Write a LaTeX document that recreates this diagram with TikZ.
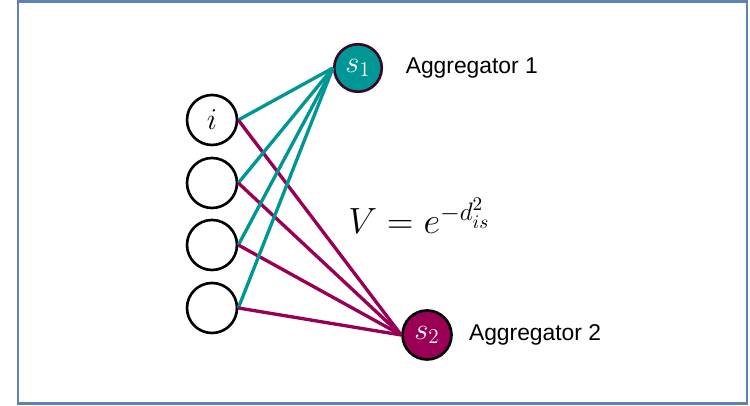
\documentclass[tikz,border=0pt]{standalone}
\usepackage{amsmath, amssymb}
\usepackage{fontspec}
\setmainfont{Liberation Sans}
\usepackage{tikz}
\usetikzlibrary{positioning}

\definecolor{marc}{RGB}{95,130,180}
\definecolor{verd}{RGB}{0,150,150}
\definecolor{grana}{RGB}{153,0,85}
\definecolor{fosc}{RGB}{55,10,35}

\tikzset{
    entrada/.style={circle, draw=black, line width=1.5pt, fill=white, minimum size=1cm, inner sep=0pt},
    agregador/.style={circle, line width=1.5pt, minimum size=0.95cm, inner sep=0pt, text=white, font=\fontsize{18}{22}\selectfont},
    etiqueta/.style={anchor=west, font=\fontsize{13}{15}\selectfont},
    via/.style={line width=1.9pt}
}

\begin{document}
\begin{tikzpicture}
    \useasboundingbox (0,0) rectangle (15,8.12);

    % Marc
    \draw[marc, line width=1.7pt] (0.36,0.04) rectangle (14.94,8.08);

    % Entrades
    \node[entrada] (in1) at (4.24,5.72) {\fontsize{17}{20}\selectfont $i$};
    \node[entrada] (in2) at (4.24,4.46) {};
    \node[entrada] (in3) at (4.24,3.22) {};
    \node[entrada] (in4) at (4.24,1.96) {};

    % Agregadors
    \node[agregador, fill=verd, draw=fosc] (s1) at (7.16,6.76) {$s_1$};
    \node[agregador, fill=grana, draw=black, minimum size=0.98cm] (s2) at (8.54,1.42) {$s_2$};
    \node[etiqueta, right=0.33cm of s1] (ag1) {Aggregator 1};
    \node[etiqueta, right=0.2cm of s2] (ag2) {Aggregator 2};

    % Connexions
    \foreach \n in {1,...,4} {
        \draw[via, verd] (in\n.east) -- (s1.west);
        \draw[via, grana] (in\n.east) -- (s2.west);
    }

    % Formula
    \node[anchor=west, inner sep=0pt, font=\fontsize{22}{26}\selectfont] (v) at (6.96,3.8) {$V = e^{-d_{is}^2}$};
\end{tikzpicture}
\end{document}
